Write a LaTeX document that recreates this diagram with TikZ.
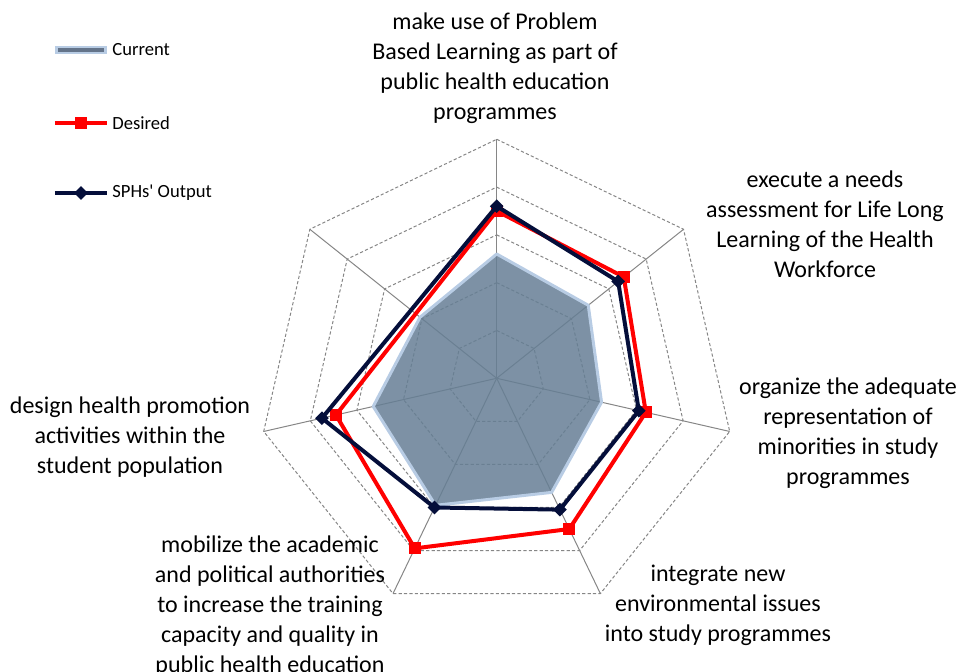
\documentclass[tikz,border=0pt]{standalone}
\usepackage{fontspec}
\setmainfont{Carlito}
\usetikzlibrary{positioning,shapes.geometric,calc}

\definecolor{gridgray}{RGB}{134,134,134}
\definecolor{curfill}{RGB}{102,126,149}
\definecolor{curedge}{RGB}{184,204,228}
\definecolor{curbar}{RGB}{100,116,138}
\definecolor{desred}{RGB}{255,0,0}
\definecolor{outnavy}{RGB}{4,14,58}

\def\ring{47.8}

\begin{document}
\begin{tikzpicture}[x=0.5pt,y=0.5pt,
	axisline/.style={gridgray,line width=0.5pt},
	ringline/.style={gridgray,line width=0.5pt,dash pattern=on 1.6pt off 1.1pt},
	current/.style={draw=curedge,line width=1.5pt,fill=curfill,fill opacity=0.85,line join=round},
	desired/.style={desred,line width=2pt,line join=round},
	output/.style={outnavy,line width=2pt,line join=round},
	sqmark/.style={rectangle,fill=desred,minimum size=6pt,inner sep=0pt},
	dmmark/.style={diamond,fill=outnavy,minimum size=7pt,inner sep=0pt},
	axislabel/.style={align=center,font=\fontsize{12}{15}\selectfont,inner sep=0pt},
	legendtext/.style={anchor=west,font=\fontsize{9.3}{11}\selectfont,inner sep=0pt}]

	\useasboundingbox (-496.7,-293.7) rectangle (463.3,378.3);
	\coordinate (c) at (0,0);

	% web: dashed rings and solid spokes
	\foreach \r in {1,...,5}
		\draw[ringline] (90:\r*\ring) \foreach \k in {1,...,6}{ -- ({90-\k*360/7}:\r*\ring)} -- cycle;
	\foreach \k in {0,...,6}
		\draw[axisline] (c) -- ({90-\k*360/7}:5*\ring);

	% Current (filled area)
	\foreach \v [count=\k from 0] in {2.6,2.45,2.25,2.65,2.95,2.65,2.05}
		\coordinate (cur\k) at ({90-\k*360/7}:{\v*\ring});
	\filldraw[current] (cur0) \foreach \k in {1,...,6}{ -- (cur\k)} -- cycle;

	% Desired (no value on the last spoke)
	\foreach \v [count=\k from 0] in {3.5,3.4,3.2,3.5,3.95,3.45}
		\coordinate (des\k) at ({90-\k*360/7}:{\v*\ring});
	\draw[desired] (des0) \foreach \k in {1,...,5}{ -- (des\k)} -- cycle;
	\foreach \k in {0,...,5}
		\node[sqmark] (desm\k) at (des\k) {};

	% SPHs' Output
	\foreach \v [count=\k from 0] in {3.6,3.25,3.05,3.05,3.0,3.75}
		\coordinate (out\k) at ({90-\k*360/7}:{\v*\ring});
	\draw[output] (out0) \foreach \k in {1,...,5}{ -- (out\k)} -- cycle;
	\foreach \k in {0,...,5}
		\node[dmmark] (outm\k) at (out\k) {};

	% spoke labels
	\node[axislabel] (lab0) at (-1.7,309.8) {make use of Problem\\Based Learning as part of\\public health education\\programmes};
	\node[axislabel] (lab1) at (328.3,154.3) {execute a needs\\assessment for Life Long\\Learning of the Health\\Workforce};
	\node[axislabel] (lab2) at (351.3,-54.7) {organize the adequate\\representation of\\minorities in study\\programmes};
	\node[axislabel] (lab3) at (221.3,-226.7) {integrate new\\environmental issues\\into study programmes};
	\node[axislabel] (lab4) at (-226.7,-227.7) {mobilize the academic\\and political authorities\\to increase the training\\capacity and quality in\\public health education};
	\node[axislabel] (lab5) at (-366.7,-58.7) {design health promotion\\activities within the\\student population};

	% legend
	\coordinate (lgc1) at (-441.7,328.3);
	\coordinate (lgc2) at (-389.7,328.3);
	\draw[curedge,line width=4pt] (lgc1) -- (lgc2);
	\draw[curbar,line width=2.4pt] ([xshift=1.5pt]lgc1) -- ([xshift=-1.5pt]lgc2);
	\node[legendtext] (lgcur) at (-384.7,328.3) {Current};

	\coordinate (lgd1) at (-441.7,255.3);
	\coordinate (lgd2) at (-389.7,255.3);
	\draw[desired] (lgd1) -- (lgd2);
	\node[sqmark] (lgdm) at ($(lgd1)!0.5!(lgd2)$) {};
	\node[legendtext] (lgdes) at (-384.7,255.3) {Desired};

	\coordinate (lgo1) at (-441.7,185.3);
	\coordinate (lgo2) at (-389.7,185.3);
	\draw[output] (lgo1) -- (lgo2);
	\node[dmmark] (lgom) at ($(lgo1)!0.5!(lgo2)$) {};
	\node[legendtext] (lgout) at (-384.7,185.3) {SPHs\textquotesingle{} Output};

\end{tikzpicture}
\end{document}
